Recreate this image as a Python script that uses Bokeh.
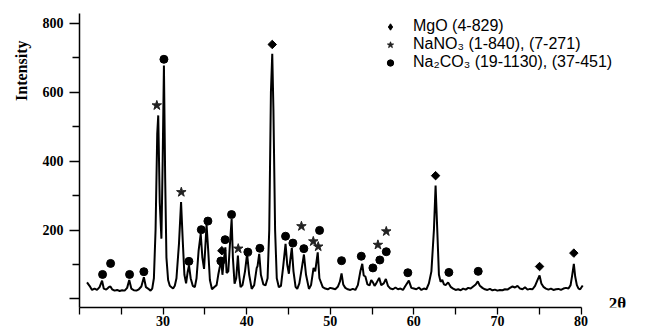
from math import pi
from bokeh.plotting import figure
from bokeh.models import Range1d, FixedTicker, Label, Legend, LegendItem, Title
from bokeh.embed import file_html
from bokeh.resources import INLINE

# XRD pattern (2-theta in degrees, intensity in counts)
two_theta = [20.9, 21.2, 21.5, 21.8, 22.1, 22.4, 22.7, 22.9, 23.2, 23.5, 23.7, 23.9,
             24.2, 24.5, 24.8, 25.1, 25.4, 25.7, 25.95, 26.2, 26.5, 26.8, 27.1, 27.4,
             27.7, 27.95, 28.2, 28.5, 28.7, 28.9, 29.1, 29.3, 29.42, 29.6, 29.8, 29.95,
             30.1, 30.25, 30.4, 30.6, 30.8, 31.0, 31.2, 31.4, 31.6, 31.9, 32.15, 32.35,
             32.55, 32.75, 32.95, 33.1, 33.3, 33.55, 33.8, 34.0, 34.25, 34.5, 34.7, 34.9,
             35.05, 35.2, 35.4, 35.6, 35.85, 36.1, 36.4, 36.6, 36.8, 36.95, 37.1, 37.25,
             37.45, 37.6, 37.8, 38.0, 38.2, 38.35, 38.55, 38.75, 38.95, 39.1, 39.27, 39.5,
             39.8, 40.05, 40.3, 40.6, 40.9, 41.2, 41.3, 41.5, 41.7, 42.0, 42.25, 42.5,
             42.7, 42.9, 43.06, 43.2, 43.4, 43.6, 43.85, 44.1, 44.35, 44.65, 44.85, 45.05,
             45.2, 45.4, 45.6, 45.85, 46.05, 46.3, 46.6, 46.85, 47.1, 47.45, 47.7, 48.0,
             48.2, 48.5, 48.7, 49.1, 49.4, 49.7, 50.0, 50.3, 50.6, 50.9, 51.15, 51.35,
             51.55, 51.8, 52.1, 52.4, 52.7, 53.0, 53.3, 53.6, 53.83, 54.0, 54.2, 54.45,
             54.7, 54.9, 55.1, 55.3, 55.5, 55.85, 56.1, 56.4, 56.65, 56.9, 57.2, 57.5,
             57.8, 58.1, 58.4, 58.7, 59.0, 59.4, 59.7, 60.0, 60.3, 60.6, 60.9, 61.2,
             61.5, 61.8, 62.1, 62.4, 62.6, 62.8, 63.0, 63.2, 63.4, 63.6, 63.8, 64.1,
             64.4, 64.7, 65.0, 65.3, 65.6, 65.9, 66.2, 66.5, 66.8, 67.1, 67.4, 67.65,
             67.9, 68.2, 68.5, 68.8, 69.1, 69.4, 69.7, 70.0, 70.3, 70.6, 70.9, 71.2,
             71.5, 71.8, 72.1, 72.4, 72.7, 73.0, 73.3, 73.6, 73.9, 74.2, 74.5, 74.8,
             75.04, 75.25, 75.5, 75.8, 76.1, 76.4, 76.7, 77.0, 77.3, 77.6, 77.9, 78.2,
             78.5, 78.75, 78.95, 79.14, 79.3, 79.5, 79.7, 79.9, 80.2]
intensity = [48, 38, 26, 30, 26, 34, 53, 30, 27, 34, 36, 28,
             24, 26, 23, 25, 24, 32, 55, 30, 25, 24, 28, 36,
             63, 34, 30, 24, 30, 60, 200, 480, 533, 280, 175, 400,
             678, 350, 120, 55, 38, 34, 30, 38, 60, 160, 281, 170,
             70, 45, 80, 97, 60, 38, 34, 60, 140, 189, 120, 87,
             150, 216, 140, 55, 28, 34, 40, 70, 95, 116, 70, 110,
             150, 75, 80, 160, 232, 120, 44, 60, 126, 70, 34, 40,
             80, 131, 70, 29, 40, 90, 95, 131, 70, 42, 39, 60,
             200, 600, 712, 550, 200, 60, 34, 38, 90, 160, 100, 73,
             110, 148, 80, 35, 29, 45, 90, 129, 70, 29, 40, 90,
             80, 135, 60, 34, 30, 28, 32, 30, 28, 35, 50, 74,
             42, 32, 28, 26, 29, 26, 40, 80, 102, 68, 65, 42,
             39, 55, 48, 38, 45, 61, 40, 45, 58, 38, 30, 28,
             33, 28, 30, 26, 38, 53, 32, 30, 28, 33, 26, 30,
             28, 45, 80, 200, 329, 200, 70, 50, 55, 42, 40, 48,
             35, 30, 26, 28, 25, 30, 27, 32, 30, 36, 42, 51,
             38, 32, 28, 26, 29, 25, 27, 24, 26, 25, 28, 27,
             32, 36, 33, 38, 30, 28, 34, 27, 29, 28, 38, 55,
             68, 45, 35, 30, 27, 30, 26, 28, 29, 26, 30, 32,
             30, 40, 70, 102, 65, 40, 30, 28, 39]

# Phase markers placed above the peaks
mgo_x = [37.03, 43.06, 62.6, 75.04, 79.14]
mgo_y = [140, 739, 358, 94, 133]
nano3_x = [29.25, 32.18, 38.99, 46.55, 47.97, 48.56, 55.7, 56.7]
nano3_y = [562, 310, 146, 211, 167, 152, 157, 196]
na2co3_x = [22.76, 23.72, 25.99, 27.70, 30.10, 33.09, 34.57, 35.36, 36.91, 37.42,
            38.19, 40.14, 41.58, 44.65, 45.53, 46.84, 48.72, 51.35, 53.71, 55.10,
            55.93, 56.70, 59.28, 64.19, 67.70]
na2co3_y = [71, 103, 71, 79, 696, 109, 201, 226, 110, 172,
            245, 136, 147, 182, 162, 146, 199, 111, 124, 90,
            113, 137, 76, 77, 80]

legend_labels = ["MgO (4-829)", "NaNO\u2083 (1-840), (7-271)", "Na\u2082CO\u2083 (19-1130), (37-451)"]
x_ticks = [20, 30, 40, 50, 60, 70, 80]
x_minor = [25, 35, 45, 55, 65, 75]
y_ticks = [0, 200, 400, 600, 800]
y_minor = [100, 300, 500, 700]
x_axis_label = "2\u03b8"
y_axis_label = "Intensity"

SERIF = "Liberation Serif"
SANS = "Liberation Sans"

X_AXIS_END = 80
p = figure(width=652, height=333, x_range=Range1d(20, 88.55), y_range=Range1d(-25, 829),
           output_backend="svg", toolbar_location=None,
           min_border_left=79, min_border_right=0, min_border_top=13, min_border_bottom=26)
p.outline_line_color = None
p.xgrid.visible = False
p.ygrid.visible = False
p.background_fill_color = "white"

p.line(two_theta, intensity, line_color="black", line_width=2)

r_mgo = p.scatter(mgo_x, mgo_y, marker="square", angle=pi / 4, size=6,
                  fill_color="black", line_color="black")
r_nano3 = p.scatter(nano3_x, nano3_y, marker="star", size=10,
                    fill_color="#222222", line_color="#222222")
r_na2co3 = p.scatter(na2co3_x, na2co3_y, marker="circle", size=8,
                     fill_color="black", line_color="black")
# legend swatch for the MgO symbol (legends draw markers unrotated); no visible point
nan = float("nan")
r_mgo_key = p.scatter([nan], [nan], marker="diamond", size=11,
                      fill_color="black", line_color="black")

xa = p.xaxis[0]
xa.ticker = FixedTicker(ticks=x_ticks, minor_ticks=x_minor)
xa.bounds = (x_ticks[0], X_AXIS_END)
xa.major_label_overrides = {20: ""}
xa.major_tick_out = 7
xa.major_tick_in = 0
xa.minor_tick_out = 7
xa.minor_tick_in = 0
xa.major_label_standoff = 1
ya = p.yaxis[0]
ya.ticker = FixedTicker(ticks=y_ticks, minor_ticks=y_minor)
ya.major_label_overrides = {0: ""}
ya.major_tick_out = 10
ya.major_tick_in = 0
ya.minor_tick_out = 7
ya.minor_tick_in = 0
ya.major_label_standoff = 6
for ax in (xa, ya):
    ax.axis_line_color = "black"
    ax.axis_line_width = 1.5
    ax.major_tick_line_color = "black"
    ax.minor_tick_line_color = "black"
    ax.major_tick_line_width = 1.3
    ax.minor_tick_line_width = 1.3
    ax.major_label_text_font = SERIF
    ax.major_label_text_font_style = "bold"
    ax.major_label_text_font_size = "14px"
    ax.major_label_text_color = "black"

p.add_layout(Title(text=y_axis_label, align="right", offset=27, standoff=19,
                   text_font=SERIF, text_font_style="bold", text_font_size="16px",
                   text_color="black"), "left")
p.add_layout(Label(x=84.37, y=-13, text=x_axis_label, text_align="center",
                   text_baseline="middle", text_font=SERIF, text_font_style="bold",
                   text_font_size="17px", text_color="black"))

legend = Legend(items=[LegendItem(label=legend_labels[0], renderers=[r_mgo_key]),
                       LegendItem(label=legend_labels[1], renderers=[r_nano3]),
                       LegendItem(label=legend_labels[2], renderers=[r_na2co3])],
                location=(303, 236), border_line_color=None, background_fill_alpha=0,
                padding=0, margin=0, spacing=0, glyph_width=16, glyph_height=17,
                label_height=17, label_standoff=15, label_text_font=SANS,
                label_text_font_size="16px", label_text_color="black")
p.add_layout(legend)

open("out.html", "w").write(file_html(p, INLINE))
